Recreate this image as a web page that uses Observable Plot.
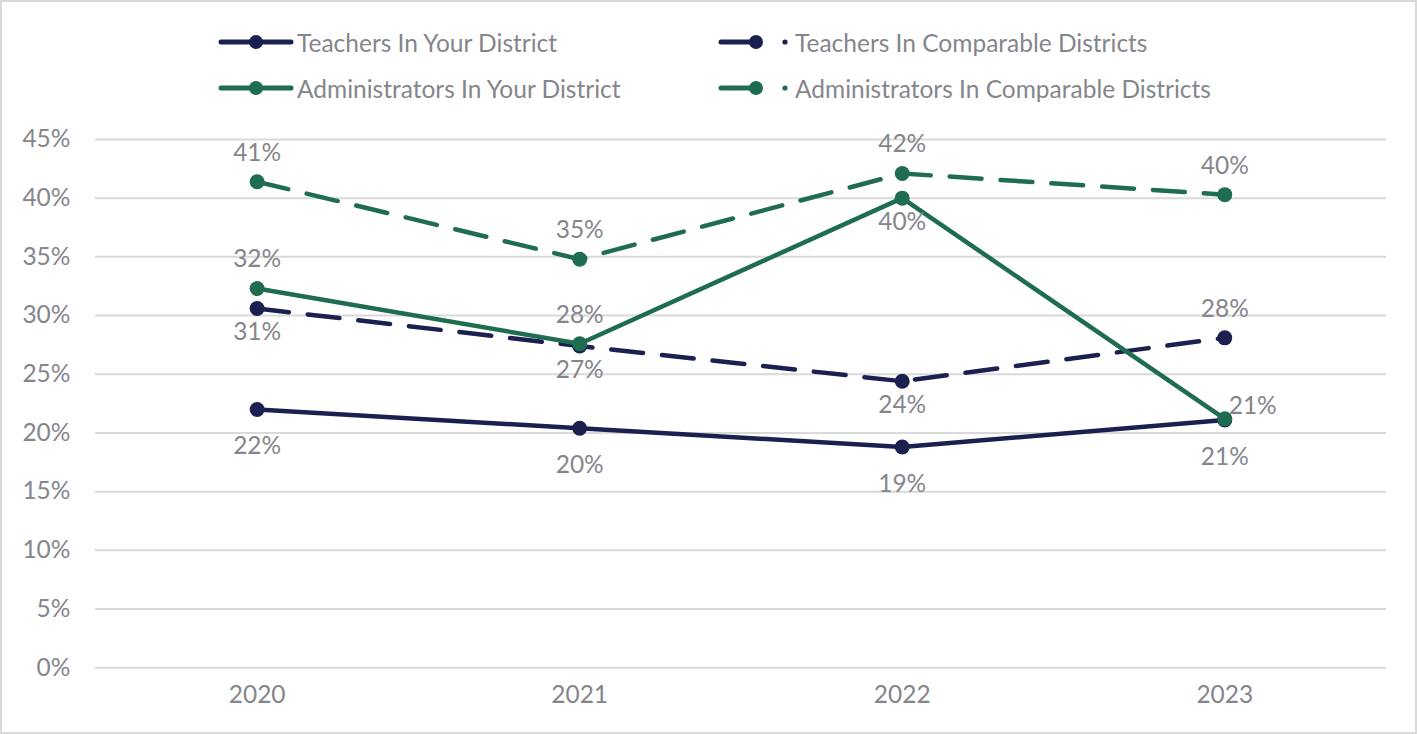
<!DOCTYPE html>
<html>
<head>
<meta charset="utf-8">
<script src="https://cdn.jsdelivr.net/npm/d3@7"></script>
<script src="https://cdn.jsdelivr.net/npm/@observablehq/plot@0.6"></script>
<style>
  html, body { margin: 0; padding: 0; background: #fff; }
  #chart {
    position: relative; width: 1417px; height: 734px; box-sizing: border-box;
    border: 2px solid #d9d9d9; font-family: Lato, "Noto Sans", sans-serif; overflow: hidden;
  }
  #legend { position: absolute; left: 0; top: 0; width: 100%; height: 113px; }
  .item { position: absolute; display: flex; align-items: center; font-size: 24.5px; color: #85868c; white-space: nowrap; }
  .item svg { display: block; }
  #plot { position: absolute; left: -2px; top: 113px; }
</style>
</head>
<body>
<div id="chart">
  <div id="legend"></div>
  <div id="plot"></div>
</div>
<script>
const years = ["2020", "2021", "2022", "2023"];
const seriesNames = [
  "Teachers In Your District",
  "Teachers In Comparable Districts",
  "Administrators In Your District",
  "Administrators In Comparable Districts"
];
const teachersYour = [22.0, 20.4, 18.8, 21.1];
const teachersComparable = [30.6, 27.4, 24.4, 28.1];
const adminYour = [32.3, 27.6, 40.0, 21.2];
const adminComparable = [41.4, 34.8, 42.1, 40.3];
const yTicks = [0, 5, 10, 15, 20, 25, 30, 35, 40, 45];

// label placement per point
const labelPlacement = [
  ["below2", "below2", "below2", "below2"],
  ["below", "below", "below", "above"],
  ["above", "above", "below", "right"],
  ["above", "above", "above", "above"]
];

const navy = "#1b2050";
const green = "#1f6d50";
const styles = [
  {color: navy, dashed: false},
  {color: navy, dashed: true},
  {color: green, dashed: false},
  {color: green, dashed: true}
];
const values = [teachersYour, teachersComparable, adminYour, adminComparable];

const rows = [];
values.forEach((vals, si) => {
  vals.forEach((v, i) => rows.push({series: seriesNames[si], si, year: years[i], value: v, place: labelPlacement[si][i]}));
});

const offsets = {
  above: {dx: 0, dy: -29},
  below: {dx: 0, dy: 24},
  below2: {dx: 0, dy: 37},
  right: {dx: 28, dy: -13}
};
const FS = 24.5;
const GRAY = "#85868c";

const marks = [
  Plot.gridY(yTicks, {stroke: "#d9d9d9", strokeOpacity: 1, strokeWidth: 2}),
  Plot.axisY(yTicks, {tickSize: 0, tickPadding: 25, tickFormat: d => d + "%", fontSize: FS, fill: GRAY}),
  Plot.axisX({tickSize: 0, tickPadding: 18, fontSize: FS, fill: GRAY})
];
values.forEach((vals, si) => {
  const data = rows.filter(r => r.si === si);
  const st = styles[si];
  marks.push(Plot.line(data, {
    x: "year", y: "value", stroke: st.color, strokeWidth: 4.5,
    strokeDasharray: st.dashed ? "32,19" : null, strokeLinecap: "round"
  }));
  marks.push(Plot.dot(data, {x: "year", y: "value", r: 7.5, fill: st.color, stroke: "none"}));
});
for (const [place, o] of Object.entries(offsets)) {
  marks.push(Plot.text(rows.filter(r => r.place === place), {
    x: "year", y: "value", text: d => Math.round(d.value) + "%",
    dx: o.dx, dy: o.dy, fontSize: FS, fill: GRAY
  }));
}

const chart = Plot.plot({
  width: 1417, height: 619,
  marginLeft: 95, marginRight: 29, marginTop: 24, marginBottom: 66,
  style: {fontFamily: 'Lato, "Noto Sans", sans-serif', background: "transparent", overflow: "visible"},
  x: {type: "point", domain: years, padding: 0.5, label: null},
  y: {domain: [0, 45], label: null},
  marks
});
document.getElementById("plot").appendChild(chart);

// legend
const legendPos = [
  {left: 215, top: 40}, {left: 715, top: 40},
  {left: 215, top: 86}, {left: 715, top: 86}
];
const legend = document.getElementById("legend");
seriesNames.forEach((name, si) => {
  const st = styles[si];
  const div = document.createElement("div");
  div.className = "item";
  div.style.left = legendPos[si].left + "px";
  div.style.top = (legendPos[si].top - 15) + "px";
  div.style.height = "30px";
  let sw;
  if (!st.dashed) {
    sw = `<svg width="80" height="30"><line x1="4" y1="15" x2="74" y2="15" stroke="${st.color}" stroke-width="5" stroke-linecap="round"/><circle cx="39" cy="15" r="7" fill="${st.color}"/></svg>`;
  } else {
    sw = `<svg width="78" height="30"><line x1="4" y1="15" x2="42" y2="15" stroke="${st.color}" stroke-width="5" stroke-linecap="round"/><circle cx="39" cy="15" r="7" fill="${st.color}"/><circle cx="68" cy="15" r="2.6" fill="${st.color}"/></svg>`;
  }
  div.innerHTML = sw + `<span>${name}</span>`;
  legend.appendChild(div);
});
</script>
</body>
</html>
